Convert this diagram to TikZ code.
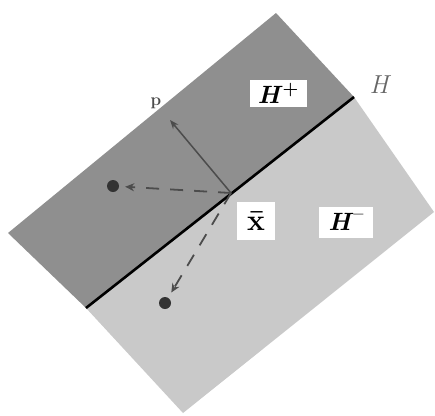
\documentclass[tikz,border=0pt]{standalone}
\usepackage{fontspec}
\usepackage{tikz}
\usetikzlibrary{arrows.meta}
\usetikzlibrary{positioning}
\definecolor{upperhalf}{gray}{0.56}
\definecolor{lowerhalf}{gray}{0.79}
\definecolor{pen}{gray}{0.3}
\tikzset{
    dot/.style={
           circle,
           fill=black!80,
           inner sep=0pt,
           minimum size=12pt,
           },
}
\tikzset{
    tag/.style={
           fill=white,
           inner sep=0pt,
           text centered,
           font=\fontsize{25}{27}\selectfont\bfseries,
           },
}
\tikzset{
    move/.style={
           pen, line width=1.8pt,
           dash pattern=on 13pt off 11pt,
           -{Stealth[length=9pt,width=8pt]},
           shorten >=6pt,
           },
}
\begin{document}
\begin{tikzpicture}[x=1pt,y=-1pt]
\useasboundingbox (0,0) rectangle (435,415);
\coordinate (top) at (276,13);
\coordinate (left) at (8,233);
\coordinate (hl) at (86,308);
\coordinate (hr) at (354,97);
\coordinate (right) at (434,212);
\coordinate (bottom) at (183,413);
\fill[upperhalf] (left) -- (top) -- (hr) -- (hl) -- cycle;
\fill[lowerhalf] (hl) -- (hr) -- (right) -- (bottom) -- cycle;
\draw[line width=2.6pt] (hl) -- (hr);
\coordinate (xb) at (231,193);
\coordinate (ptip) at (170,120);
\node[dot](a) at (113,186){};
\node[dot](b) at (165,303){};
\draw[pen, line width=1.5pt, -{Stealth[length=9pt,width=7pt]}] (xb) -- (ptip);
\node[font=\fontsize{17}{18}\selectfont\bfseries, text=pen](p) at (156,103){p};
\draw[move] (xb) -- (a);
\draw[move] (xb) -- (b);
\node[tag, minimum width=57pt, minimum height=27pt](hplus) at (278,93){\textit{H}\raisebox{0.8ex}{\fontsize{18}{19}\selectfont+}};
\node[tag, minimum width=38pt, minimum height=38pt, font=\fontsize{30}{32}\selectfont\bfseries](xbar) at (256,221){\=x};
\node[tag, minimum width=54pt, minimum height=31pt](hminus) at (346,222){\textit{H}\raisebox{1ex}{\fontsize{18}{19}\selectfont –}};
\node[font=\fontsize{26}{28}\selectfont\itshape, text=black!60](h) at (379,85){H};
\end{tikzpicture}
\end{document}
